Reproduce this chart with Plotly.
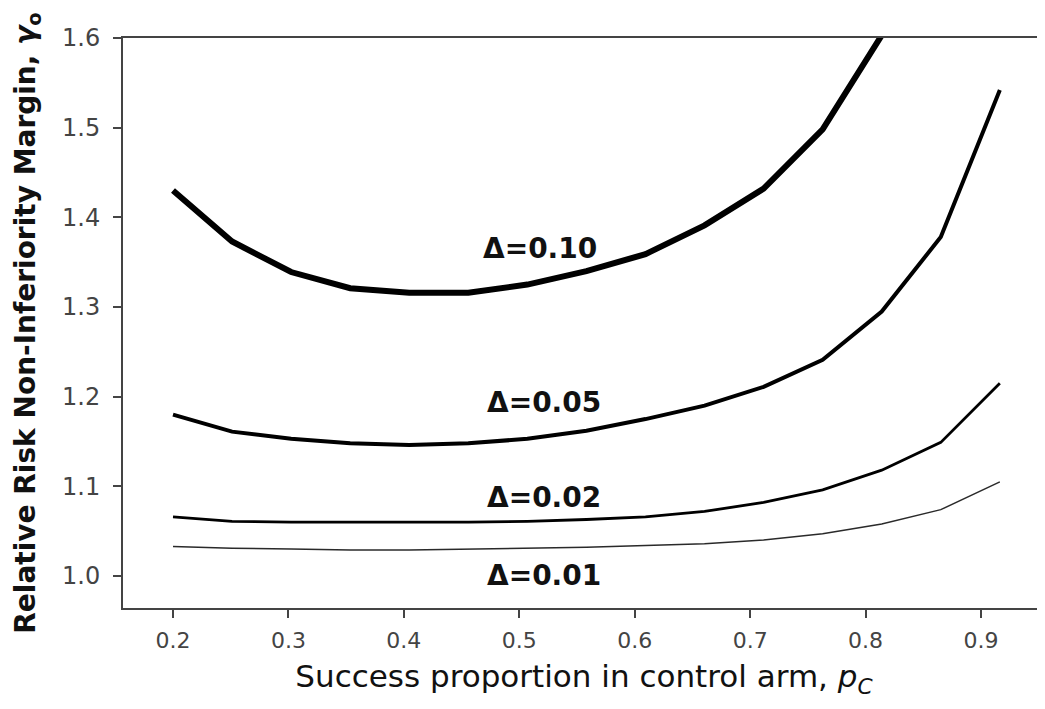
import plotly.graph_objects as go

# Success proportion in control arm
p_c = [0.2, 0.25, 0.3, 0.35, 0.4, 0.45, 0.5, 0.55, 0.6, 0.65, 0.7, 0.75, 0.8, 0.85, 0.9]

# Relative risk non-inferiority margin for each Delta
margin_d10 = [1.430, 1.373, 1.339, 1.321, 1.316, 1.316, 1.325, 1.340, 1.359, 1.391, 1.432, 1.498, 1.603]
margin_d05 = [1.180, 1.161, 1.153, 1.148, 1.146, 1.148, 1.153, 1.162, 1.175, 1.190, 1.211, 1.241, 1.295, 1.378, 1.542]
margin_d02 = [1.066, 1.061, 1.060, 1.060, 1.060, 1.060, 1.061, 1.063, 1.066, 1.072, 1.082, 1.096, 1.118, 1.149, 1.215]
margin_d01 = [1.033, 1.031, 1.030, 1.029, 1.029, 1.030, 1.031, 1.032, 1.034, 1.036, 1.040, 1.047, 1.058, 1.074, 1.105]

series_labels = ["Δ=0.10", "Δ=0.05", "Δ=0.02", "Δ=0.01"]
label_x = [0.518, 0.521, 0.521, 0.521]
label_y = [1.3647, 1.193, 1.087, 1.001]

x_ticks = [0.2, 0.3, 0.4, 0.5, 0.6, 0.7, 0.8, 0.9]
x_tick_text = ["0.2", "0.3", "0.4", "0.5", "0.6", "0.7", "0.8", "0.9"]
y_ticks = [1.0, 1.1, 1.2, 1.3, 1.4, 1.5, 1.6]
y_tick_text = ["1.0", "1.1", "1.2", "1.3", "1.4", "1.5", "1.6"]

fig = go.Figure()

styles = [
    (margin_d10, 6.0, "#000000"),
    (margin_d05, 4.0, "#000000"),
    (margin_d02, 2.8, "#000000"),
    (margin_d01, 1.5, "#2a2a2a"),
]
for vals, w, c in styles:
    fig.add_trace(go.Scatter(
        x=p_c[:len(vals)], y=vals, mode="lines",
        line=dict(color=c, width=w, shape="linear"),
        xaxis="x2", yaxis="y", showlegend=False, hoverinfo="skip",
    ))

for txt, lx, ly in zip(series_labels, label_x, label_y):
    fig.add_annotation(
        x=lx, y=ly, xref="x", yref="y", text=f"<b>{txt}</b>",
        showarrow=False, xanchor="center", yanchor="middle",
        font=dict(family="DejaVu Sans", size=28, color="#111111"),
    )

# The page body has an 8px margin, so the figure is sized to fit the window.
fig.update_layout(
    width=1037, height=701,
    margin=dict(l=115, r=0, t=30, b=101),
    paper_bgcolor="white", plot_bgcolor="white",
    showlegend=False,
    xaxis=dict(
        range=[0.1567, 0.9554],
        tickmode="array", tickvals=x_ticks, ticktext=x_tick_text,
        ticks="outside", ticklen=8, tickwidth=2, tickcolor="#444444",
        showline=True, linecolor="#444444", linewidth=2, mirror=True,
        showgrid=False, zeroline=False,
        ticklabelstandoff=4,
        tickfont=dict(family="DejaVu Sans", size=22, color="#444444"),
        title=dict(
            text="Success proportion in control arm, <i>p<sub>C</sub></i>",
            font=dict(family="DejaVu Sans", size=31, color="#111111"),
            standoff=13,
        ),
    ),
    xaxis2=dict(
        range=[0.15767, 0.93823], overlaying="x", visible=False,
        showgrid=False, zeroline=False,
    ),
    yaxis=dict(
        range=[0.9643, 1.6],
        tickmode="array", tickvals=y_ticks, ticktext=y_tick_text,
        ticks="outside", ticklen=8, tickwidth=2, tickcolor="#444444",
        showline=True, linecolor="#444444", linewidth=2,
        showgrid=False, zeroline=False,
        ticklabelstandoff=8,
        tickfont=dict(family="DejaVu Sans", size=24, color="#444444"),
        title=dict(
            text="<b>Relative Risk Non-Inferiority Margin, <i>γ</i><sub>o</sub></b>",
            font=dict(family="DejaVu Sans", size=28, color="#111111"),
            standoff=18,
        ),
    ),
)

fig.write_html("out.html")
